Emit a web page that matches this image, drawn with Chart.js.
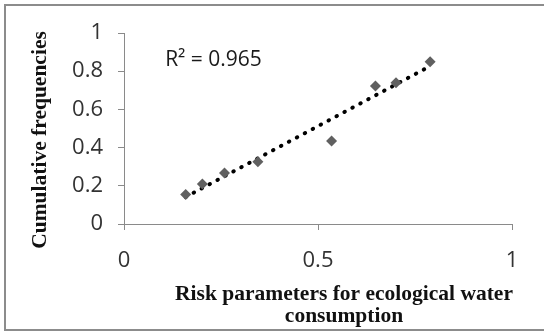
<!DOCTYPE html>
<html>
<head>
<meta charset="utf-8">
<script src="https://cdn.jsdelivr.net/npm/chart.js@4"></script>
<style>
  html, body { margin: 0; padding: 0; background: #fff; }
  #wrap { width: 544px; height: 334px; }
</style>
</head>
<body>
<div id="wrap"><canvas id="myChart" width="544" height="334"></canvas></div>
<script>
// values
const riskParams = [0.159, 0.202, 0.259, 0.345, 0.535, 0.648, 0.701, 0.789]
const cumFreq = [0.155, 0.209, 0.267, 0.326, 0.435, 0.723, 0.740, 0.850]
const xTicks = [0, 0.5, 1]
const yTicks = [0, 0.2, 0.4, 0.6, 0.8, 1]
const rSquaredLabel = 'R\u00b2 = 0.965'
const xTitle = ['Risk parameters for ecological water', 'consumption']
const yTitle = 'Cumulative frequencies'

// linear trendline (least squares), like the spreadsheet one
const fitLine = (xs, ys) => {
    const n = xs.length
    const mx = xs.reduce((a, b) => a + b, 0) / n
    const my = ys.reduce((a, b) => a + b, 0) / n
    let sxy = 0, sxx = 0
    xs.forEach((x, i) => { sxy += (x - mx) * (ys[i] - my); sxx += (x - mx) * (x - mx) })
    const slope = sxy / sxx
    const icept = my - slope * mx
    const x0 = Math.min(...xs), x1 = Math.max(...xs)
    return [{x: x0, y: icept + slope * x0}, {x: x1, y: icept + slope * x1}]
}

const points = riskParams.map((x, i) => ({x, y: cumFreq[i]}))
const trend = fitLine(riskParams, cumFreq)

const tickColor = '#333'
const axisColor = '#8a8a8a'

const frameAndText = {
    id: 'frameAndText',
    beforeDraw(chart) {
        const c = chart.ctx
        c.save()
        c.fillStyle = '#fff'
        c.fillRect(0, 0, chart.width, chart.height)
        c.strokeStyle = '#8c8c8c'
        c.lineWidth = 2
        c.strokeRect(5, 5, 580, 325)
        c.restore()
    },
    afterDraw(chart) {
        const c = chart.ctx
        const {x, y} = chart.scales
        c.save()
        c.fillStyle = '#1a1a1a'
        // R squared label
        c.font = '21px "Open Sans"'
        c.textAlign = 'left'
        c.textBaseline = 'alphabetic'
        c.fillText(rSquaredLabel, x.getPixelForValue(0.106), y.getPixelForValue(0.827))
        // axis titles
        c.fillStyle = '#111'
        c.font = 'bold 21.5px "Liberation Serif"'
        c.textAlign = 'center'
        c.fillText(xTitle[0], 344, 300)
        c.fillText(xTitle[1], 344, 322)
        c.translate(46, 140)
        c.rotate(-Math.PI / 2)
        c.fillText(yTitle, 0, 0)
        c.restore()
    }
}

new Chart('myChart', {
    type: 'scatter',
    data: {
        datasets: [{
            data: points,
            pointStyle: 'rectRot',
            pointRadius: 5.5,
            pointHoverRadius: 5.5,
            backgroundColor: '#606060',
            borderColor: '#606060',
            borderWidth: 0
        }, {
            type: 'line',
            data: trend,
            borderColor: '#000',
            borderWidth: 4,
            borderDash: [0.5, 8.5],
            borderCapStyle: 'round',
            pointRadius: 0,
            fill: false
        }]
    },
    options: {
        responsive: false,
        animation: false,
        events: [],
        layout: {padding: {left: 0, right: 32, top: 33, bottom: 0}},
        plugins: {legend: {display: false}, tooltip: {enabled: false}},
        scales: {
            x: {
                type: 'linear',
                min: 0, max: 1,
                afterBuildTicks: s => { s.ticks = xTicks.map(v => ({value: v})) },
                afterFit: s => { s.height = 110 },
                ticks: {
                    color: tickColor,
                    font: {family: 'Open Sans', size: 22},
                    padding: 18,
                    maxRotation: 0,
                    callback: v => String(v)
                },
                grid: {drawOnChartArea: false, tickLength: 6, color: axisColor},
                border: {color: axisColor, width: 1}
            },
            y: {
                type: 'linear',
                min: 0, max: 1,
                afterBuildTicks: s => { s.ticks = yTicks.map(v => ({value: v})) },
                afterFit: s => { s.width = 124 },
                ticks: {
                    color: tickColor,
                    font: {family: 'Open Sans', size: 22},
                    padding: 15,
                    callback: v => String(v)
                },
                grid: {drawOnChartArea: false, tickLength: 6, color: axisColor},
                border: {color: axisColor, width: 1}
            }
        }
    },
    plugins: [frameAndText]
})
</script>
</body>
</html>
